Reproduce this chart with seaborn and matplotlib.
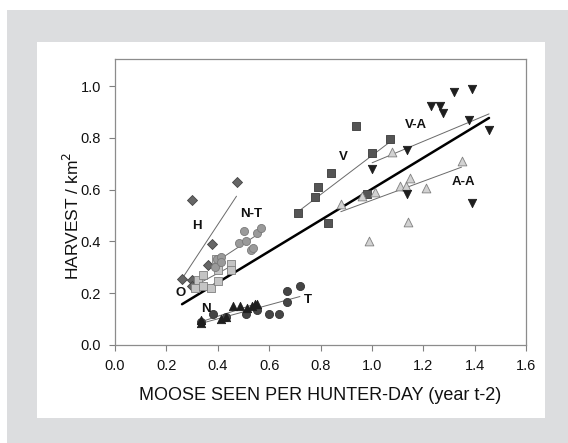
import numpy as np
import pandas as pd
import matplotlib
matplotlib.use("Agg")
import matplotlib.pyplot as plt
import seaborn as sns
from matplotlib.patches import Rectangle

sns.set_theme(style="white")
plt.rcParams['font.family'] = ['Liberation Sans', 'DejaVu Sans']

# ---- data ----
h_x = [0.261, 0.301, 0.301, 0.301, 0.361, 0.379, 0.473]
h_y = [0.254, 0.251, 0.228, 0.560, 0.308, 0.389, 0.629]

o_x = [0.311, 0.322, 0.344, 0.344, 0.372, 0.392, 0.402, 0.402, 0.450, 0.450]
o_y = [0.219, 0.251, 0.228, 0.270, 0.219, 0.331, 0.290, 0.248, 0.312, 0.290]

nt_x = [0.390, 0.398, 0.411, 0.411, 0.481, 0.510, 0.528, 0.538, 0.502, 0.551, 0.569]
nt_y = [0.302, 0.332, 0.341, 0.322, 0.395, 0.403, 0.367, 0.373, 0.441, 0.434, 0.453]

n_x = [0.333, 0.333, 0.411, 0.431, 0.460, 0.486, 0.512, 0.532, 0.545, 0.554]
n_y = [0.086, 0.098, 0.099, 0.109, 0.151, 0.151, 0.142, 0.151, 0.158, 0.158]

t_x = [0.335, 0.380, 0.432, 0.510, 0.551, 0.599, 0.638, 0.668, 0.668, 0.720]
t_y = [0.090, 0.118, 0.110, 0.118, 0.137, 0.118, 0.118, 0.167, 0.210, 0.229]

v_x = [0.711, 0.780, 0.791, 0.830, 0.840, 0.940, 0.982, 1.001, 1.070]
v_y = [0.511, 0.570, 0.611, 0.470, 0.665, 0.845, 0.582, 0.742, 0.794]

va_x = [1.001, 1.138, 1.138, 1.230, 1.267, 1.277, 1.319, 1.379, 1.388, 1.388, 1.456]
va_y = [0.681, 0.753, 0.583, 0.923, 0.923, 0.895, 0.978, 0.871, 0.991, 0.549, 0.830]

aa_x = [0.879, 0.961, 0.990, 1.012, 1.079, 1.109, 1.131, 1.150, 1.139, 1.210, 1.349]
aa_y = [0.543, 0.575, 0.402, 0.592, 0.747, 0.614, 0.614, 0.644, 0.474, 0.605, 0.712]

groups = {
    "H": (h_x, h_y), "O": (o_x, o_y), "N-T": (nt_x, nt_y), "N": (n_x, n_y),
    "T": (t_x, t_y), "V": (v_x, v_y), "V-A": (va_x, va_y), "A-A": (aa_x, aa_y),
}

x_ticks = [0.0, 0.2, 0.4, 0.6, 0.8, 1.0, 1.2, 1.4, 1.6]
y_ticks = [0.0, 0.2, 0.4, 0.6, 0.8, 1.0]

frames = []
for g, (xs, ys) in groups.items():
    frames.append(pd.DataFrame({"x": xs, "y": ys, "group": g}))
df = pd.concat(frames, ignore_index=True)

styles = {
    "H":   dict(marker="D", color="#666666", edge="#444444", s=26),
    "O":   dict(marker="s", color="#c4c4c4", edge="#808080", s=34),
    "N-T": dict(marker="o", color="#9a9a9a", edge="#7a7a7a", s=34),
    "N":   dict(marker="^", color="#1e1e1e", edge="#1e1e1e", s=36),
    "T":   dict(marker="o", color="#454545", edge="#333333", s=34),
    "V":   dict(marker="s", color="#555555", edge="#3a3a3a", s=30),
    "V-A": dict(marker="v", color="#1e1e1e", edge="#1e1e1e", s=36),
    "A-A": dict(marker="^", color="#d2d2d2", edge="#808080", s=40),
}
# draw order (T behind N)
order = ["H", "O", "N-T", "T", "N", "V", "A-A", "V-A"]

fig = plt.figure(figsize=(5.68, 4.43), dpi=100)
W, H = 568, 443
bg1 = Rectangle((7 / W, 0), 1 - 7 / W, 1 - 10 / H, transform=fig.transFigure,
                facecolor="#dcdddf", edgecolor="none")
bg2 = Rectangle((37 / W, 1 - 418 / H), (545 - 37) / W, (418 - 42) / H,
                transform=fig.transFigure, facecolor="white", edgecolor="none")
bg1.set_zorder(-20)
bg2.set_zorder(-19)
fig.add_artist(bg1)
fig.add_artist(bg2)

ax = fig.add_axes([115 / W, 1 - 345 / H, (526 - 115) / W, (345 - 59) / H])
ax.set_zorder(5)
ax.set_facecolor("white")

# group regression lines
for g in groups:
    sub = df[df.group == g]
    sns.regplot(data=sub, x="x", y="y", ax=ax, scatter=False, ci=None, truncate=True,
                line_kws=dict(color="#6a6a6a", lw=0.7, zorder=2))

# overall regression line
sns.regplot(data=df, x="x", y="y", ax=ax, scatter=False, ci=None, truncate=True,
            line_kws=dict(color="black", lw=1.8, zorder=3))

# points
for g in order:
    st = styles[g]
    sub = df[df.group == g]
    sns.scatterplot(data=sub, x="x", y="y", ax=ax, marker=st["marker"], color=st["color"],
                    edgecolor=st["edge"], linewidth=0.6, s=st["s"], zorder=4, legend=False)

labels = {"H": (0.32, 0.46), "N-T": (0.53, 0.505), "O": (0.255, 0.2), "N": (0.355, 0.14),
          "T": (0.75, 0.175), "V": (0.89, 0.725), "V-A": (1.17, 0.85), "A-A": (1.355, 0.628)}
for t, (lx, ly) in labels.items():
    ax.text(lx, ly, t, fontsize=9.5, fontweight="bold", color="#111111",
            ha="center", va="center", zorder=5)

ax.set_xlim(0, 1.6)
ax.set_ylim(0, 1.105)
ax.set_xticks(x_ticks)
ax.set_yticks(y_ticks)
ax.set_xticklabels([f"{v:.1f}" for v in x_ticks])
ax.set_yticklabels([f"{v:.1f}" for v in y_ticks])
ax.tick_params(axis="both", which="major", direction="out", length=4, width=0.8,
               color="#808080", labelsize=10.5, labelcolor="#111111", pad=6,
               bottom=True, left=True)
for sp in ax.spines.values():
    sp.set_color("#8c8c8c")
    sp.set_linewidth(0.9)

ax.set_xlabel("MOOSE SEEN PER HUNTER-DAY (year t-2)", fontsize=13, color="#111111")
ax.set_ylabel("HARVEST / km$^2$", fontsize=12.5, color="#111111")
ax.xaxis.set_label_coords(0.5, -0.148)
ax.yaxis.set_label_coords(-0.08, 0.45)

fig.savefig("out.png", dpi=100, facecolor="white")
